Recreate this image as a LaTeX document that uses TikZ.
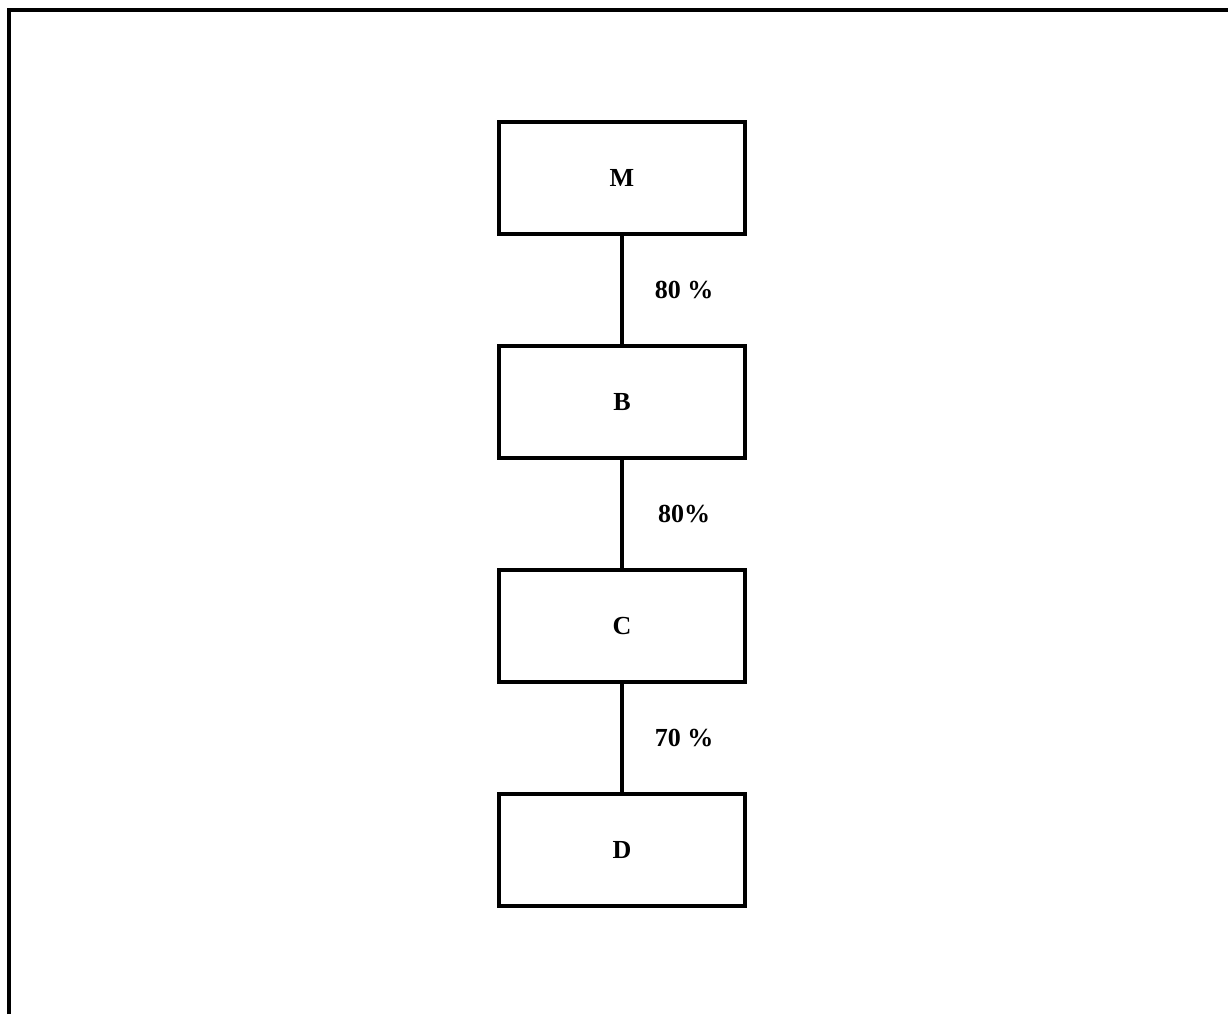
\documentclass[tikz,border=0pt]{standalone}
\usepackage{fontspec}
\setmainfont{Liberation Serif}
\usetikzlibrary{positioning}

\begin{document}
\begin{tikzpicture}[x=0.025cm, y=-0.025cm, line width=0.1cm,
    blk/.style={draw, rectangle, minimum width=6.15cm, minimum height=2.8cm, inner sep=0pt, font=\fontsize{18.5}{22}\selectfont\bfseries},
    pct/.style={font=\fontsize{18.5}{22}\selectfont\bfseries, xshift=1.55cm}]
      \useasboundingbox (0,0) rectangle (1228,1014);
      \draw (9,1014) -- (9,10) -- (1228,10);
      
      \node[blk] (m) at (622,178) {M};
      \node[blk] (b) at (622,402) {B};
      \node[blk] (c) at (622,626) {C};
      \node[blk] (d) at (622,850) {D};
      
      \draw (m) -- node[pct] {80 \%} (b);
      \draw (b) -- node[pct] {80\%} (c);
      \draw (c) -- node[pct] {70 \%} (d);
    \end{tikzpicture}
\end{document}
